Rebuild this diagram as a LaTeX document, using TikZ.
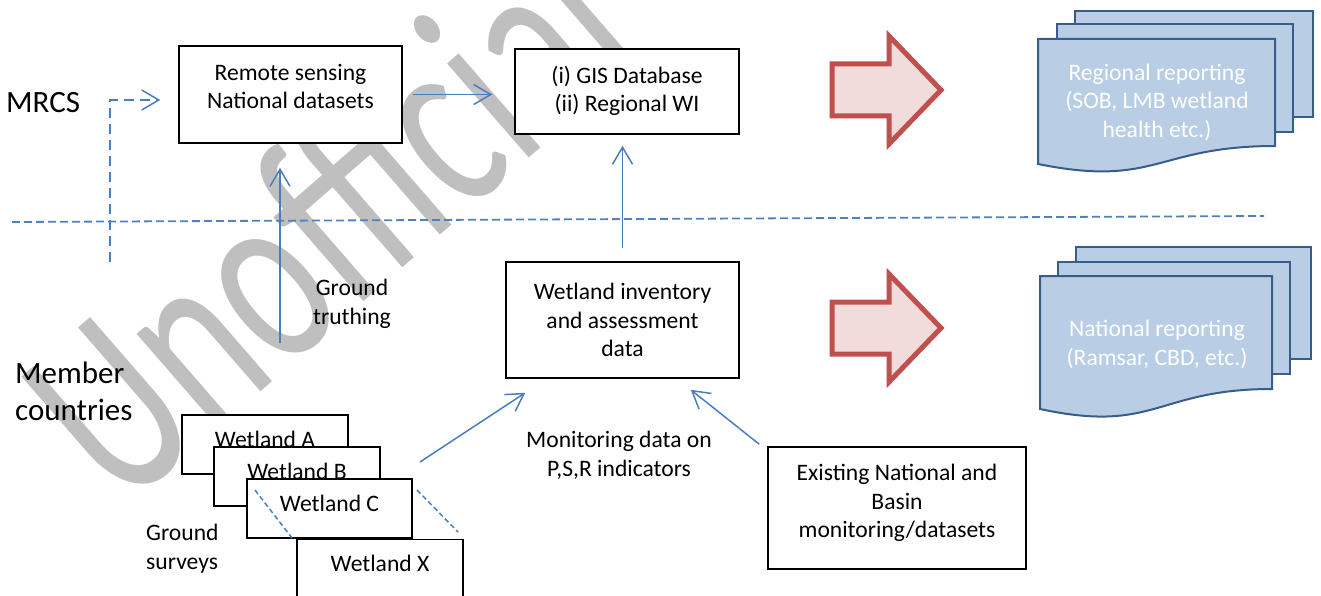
\documentclass[tikz,border=0pt]{standalone}
\usepackage{fontspec}
\setmainfont{Carlito}
\usetikzlibrary{arrows.meta}

\definecolor{linkblue}{HTML}{4A7EBB}
\definecolor{sepblue}{HTML}{4F81BD}
\definecolor{pagefill}{HTML}{B9CDE5}
\definecolor{pageline}{HTML}{385D8A}
\definecolor{bigred}{HTML}{C0504D}
\definecolor{pinkfill}{HTML}{F2DCDB}
\definecolor{wmgrey}{HTML}{BFBFBF}

\newcommand\bodyfont{\fontsize{23.6}{28.8}\selectfont}
\newcommand\bigfont{\fontsize{31}{37.5}\selectfont}
\newcommand\wmfont{\fontsize{180}{190}\selectfont}

\begin{document}
\begin{tikzpicture}[x=1pt,y=-1pt,
  box/.style={draw=black, line width=1.6pt, fill=white, inner sep=0pt},
  txt/.style={inner sep=0pt, align=center, font=\bodyfont, text=black},
  lbl/.style={inner sep=0pt, align=left, font=\bigfont, text=black},
  arr/.style={draw=linkblue, line width=1.5pt, -{Straight Barb[length=17pt,width=20pt]}},
  dasharr/.style={arr, dash pattern=on 10pt off 6pt},
  sepline/.style={draw=sepblue, line width=1.8pt, dash pattern=on 8pt off 4pt},
  thindash/.style={draw=linkblue, line width=1.5pt, dash pattern=on 5pt off 3pt},
  page/.style={fill=pagefill, draw=pageline, line width=2pt, line join=miter},
  bigarrow/.style={fill=pinkfill, draw=bigred, line width=5pt, line join=miter},
  wmark/.style={text=wmgrey, inner sep=0pt, font=\wmfont, anchor=base west},
  pagetxt/.style={txt, text=white}
]
\useasboundingbox (0,0) rectangle (1321,596);

% watermark
\node[wmark, rotate=41, yscale=1.45] (wm) at (122,512) {Unofficial};

% divider between the regional and national levels
\coordinate (sep-l) at (12,222);
\coordinate (sep-r) at (1264,216);
\draw[sepline] (sep-l) -- (sep-r);

% side labels
\node[lbl, anchor=base west] (mrcs) at (6,113) {MRCS};
\node[lbl, anchor=north west] (member) at (15,356.75) {\strut Member\\\strut countries};

% regional level
\node[box, minimum width=223pt, minimum height=97pt] (remote) at (290.5,94.5) {};
\node[txt, anchor=north] (remote-t) at (290.5,59.84) {\strut Remote sensing\\\strut National datasets};

\node[box, minimum width=224pt, minimum height=85pt] (gis) at (627,91.5) {};
\node[txt, anchor=north] (gis-t) at (627,62.84) {\strut (i) GIS Database\\\strut (ii) Regional WI};

% national level
\node[box, minimum width=233pt, minimum height=116pt] (inv) at (622.5,320) {};
\node[txt, anchor=north] (inv-t) at (622.5,278.84) {\strut Wetland inventory\\\strut and assessment\\\strut data};

\node[box, minimum width=258pt, minimum height=122pt] (ex) at (897,508) {};
\node[txt, anchor=north] (ex-t) at (897,459.84) {\strut Existing National and\\\strut Basin\\\strut monitoring/datasets};

\node[txt, anchor=north] (mon-t) at (619,426.84) {\strut Monitoring data on\\\strut P,S,R indicators};
\node[txt, anchor=north] (gt-t) at (352,274.84) {\strut Ground\\\strut truthing};
\node[txt, align=left, anchor=north west] (gs-t) at (146,519.84) {\strut Ground\\\strut surveys};

% stacked wetland sheets
\node[box, minimum width=166pt, minimum height=59pt] (wA) at (265,444.5) {};
\node[txt, anchor=base] (wA-t) at (265,447) {Wetland A};
\node[box, minimum width=166pt, minimum height=59pt] (wB) at (297,476.5) {};
\node[txt, anchor=base] (wB-t) at (297,479) {Wetland B};
\node[box, minimum width=165pt, minimum height=59pt] (wC) at (329.5,508.5) {};
\node[txt, anchor=base] (wC-t) at (329.5,511) {Wetland C};
\coordinate (dl-a) at (255,490);
\coordinate (dl-b) at (292,538);
\coordinate (dr-a) at (417,490);
\coordinate (dr-b) at (458,532);
\draw[thindash] (dl-a) -- (dl-b);
\draw[thindash] (dr-a) -- (dr-b);
\node[box, minimum width=166pt, minimum height=60pt] (wX) at (380,569.5) {};
\node[txt, anchor=base] (wX-t) at (380,571) {Wetland X};

% connectors
\coordinate (mrcs-foot) at (110,262);
\draw[dasharr] (mrcs-foot) |- ([xshift=-18pt,yshift=-5.5pt]remote.west);
\draw[arr, shorten <=10pt, shorten >=22pt] (remote.east) -- (remote.east -| gis.west);
\coordinate (gt-foot) at (280,343);
\draw[arr, shorten >=24pt] (gt-foot) -- (gt-foot |- remote.south);
\draw[arr, shorten <=13pt, shorten >=11pt] (inv.north) -- (inv.north |- gis.south);
\coordinate (ws-out) at (420,462);
\draw[arr] (ws-out) -- ([xshift=20pt,yshift=-14pt]inv.south west);
\draw[arr] ([xshift=-8pt,yshift=2pt]ex.north west) -- ([xshift=-49pt,yshift=-11pt]inv.south east);

% block arrows towards reporting
\path[bigarrow] (832,64) -- (889,64) -- (889,36) -- (941,90) -- (889,144) -- (889,116) -- (832,116) -- cycle;
\path[bigarrow] (832,302) -- (889,302) -- (889,274) -- (941,328) -- (889,382) -- (889,354) -- (832,354) -- cycle;

% regional reporting stack
\path[page] (1075,11) rectangle (1313,117);
\path[page] (1057,24) rectangle (1293,132);
\path[page] (1038,39) -- (1275,39) -- (1275,146) .. controls (1156.5,146) and (1156.5,188) .. (1038,164) -- cycle;
\node[pagetxt, anchor=north] (reg-t) at (1157,59.84) {\strut Regional reporting\\\strut (SOB, LMB wetland\\\strut health etc.)};

% national reporting stack
\path[page] (1076,247) rectangle (1311,359);
\path[page] (1058,262) rectangle (1290,374);
\path[page] (1040,276) -- (1272,276) -- (1272,389) .. controls (1156,389) and (1156,434) .. (1040,409) -- cycle;
\node[pagetxt, anchor=north] (nat-t) at (1157,315.84) {\strut National reporting\\\strut (Ramsar, CBD, etc.)};
\end{tikzpicture}
\end{document}
